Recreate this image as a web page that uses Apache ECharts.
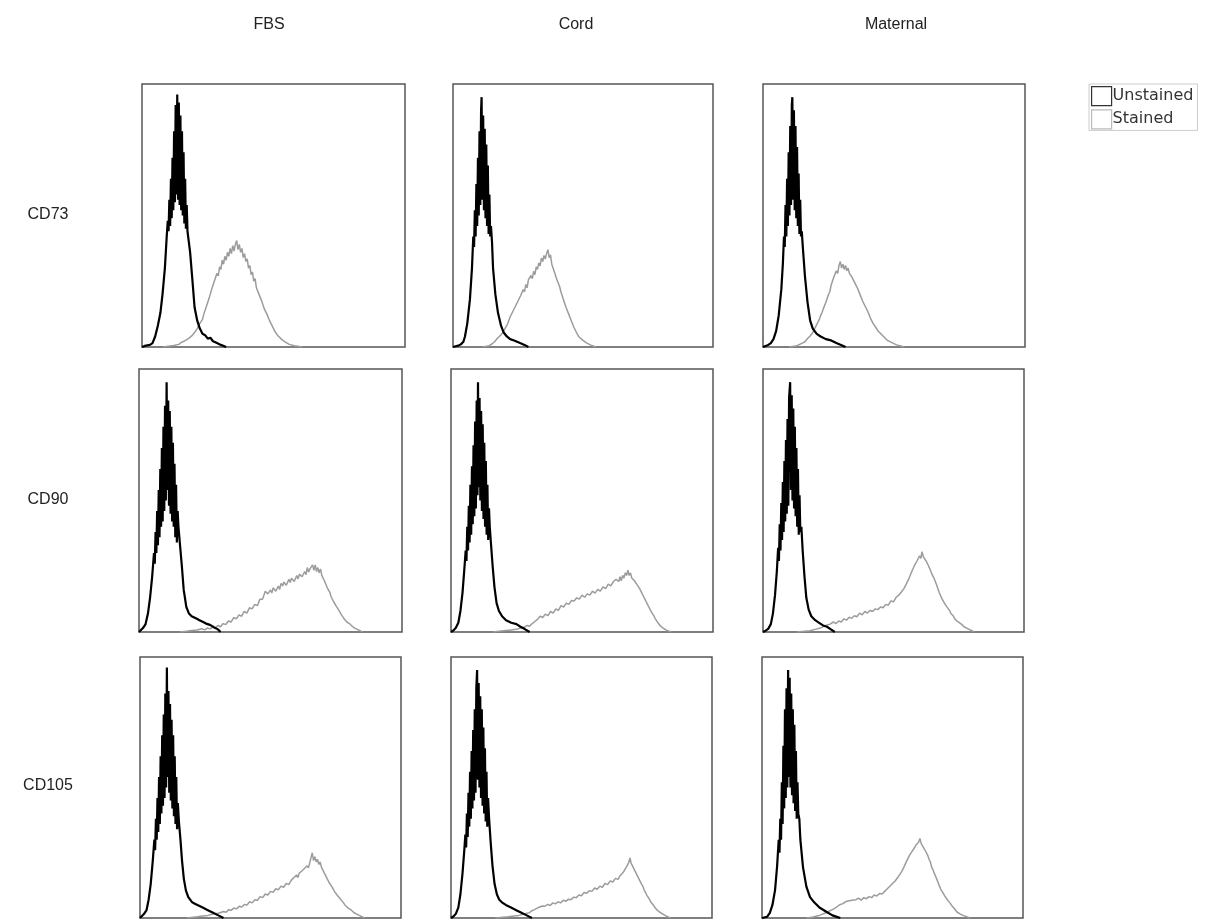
<!DOCTYPE html>
<html>
<head>
<meta charset="utf-8">
<title>CD73 / CD90 / CD105 histograms</title>
<script src="https://cdn.jsdelivr.net/npm/echarts@6/dist/echarts.min.js"></script>
<style>
  html, body { margin: 0; padding: 0; background: #fff; }
  #chart { width: 1205px; height: 920px; }
</style>
</head>
<body>
<div id="chart"></div>
<script>
var columns = ['FBS', 'Cord', 'Maternal'];
var markers = ['CD73', 'CD90', 'CD105'];
var seriesNames = ['Unstained', 'Stained'];

// [channel %, count % of panel max]
var fbsCD73Unstained = [[0,0],[1,0.4],[2,0.6],[3,0.8],[4,1.5],[5,4],[6,8],[7,13],[7.8,20],[8.7,30],[9.4,42],[9.8,48],[10.1,44],[10.4,56],[10.7,46],[11,64],[11.3,49],[11.6,72],[11.9,52],[12.2,82],[12.5,55],[12.8,92],[13.1,58],[13.4,96],[13.7,56],[14,93],[14.3,54],[14.6,88],[14.9,52],[15.2,82],[15.5,50],[15.8,74],[16.1,47],[16.4,64],[16.7,45],[17,54],[17.3,44],[18.3,36],[19.2,25],[20,15],[21,10],[22,7],[23,5],[24,4.5],[25,3.2],[26,3.5],[27,2.2],[28.5,1.5],[30,0.8],[32,0]];
var fbsCD73Stained = [[8,0],[10,0.3],[12,0.6],[14,1],[15,1.8],[15.5,1.2],[16,2.2],[16.5,1.8],[17,2.8],[17.5,2.4],[18,3.5],[18.5,3],[19,4.3],[19.5,4],[20,5.5],[20.5,5],[21,7],[21.5,6.5],[22,9],[22.5,8.5],[23,10.5],[23.5,12.5],[24,12],[24.5,15.5],[25,15],[25.5,18.5],[26,18],[26.5,22],[27,21.5],[27.5,25],[28,24.5],[28.5,28],[29,27],[29.5,30.5],[30,29.5],[30.5,33],[31,31.5],[31.5,34.5],[32,33],[32.5,36],[33,34.5],[33.5,37.5],[34,35.5],[34.5,38.5],[35,36.5],[35.5,39],[36,40.5],[36.5,37],[37,39],[37.5,36],[38,37.5],[38.5,34],[39,35.5],[39.5,32.5],[40,33.5],[40.5,30],[41,31],[41.5,27.5],[42,28.5],[42.5,25],[43,26],[43.5,22.5],[44,23],[44.5,20],[45,20.5],[45.5,17.5],[46,17],[46.5,14.5],[47,15],[47.5,12.5],[48,12],[48.5,10],[49,10],[49.5,8],[50,7.5],[50.5,6],[51,6],[51.5,4.5],[52,4.5],[53,3],[53.5,3.2],[54,2.2],[55,1.6],[56,1],[58,0.5],[61,0]];

var cordCD73Unstained = [[0,0],[1,0.3],[2,0.5],[3,1],[4,2],[4.6,4],[5.5,9],[6.5,18],[7.3,30],[7.8,42],[8.1,38],[8.4,52],[8.7,42],[9,62],[9.3,46],[9.6,72],[9.9,50],[10.2,82],[10.5,54],[10.8,90],[11,95],[11.3,56],[11.6,88],[11.9,52],[12.2,83],[12.5,49],[12.8,77],[13.1,46],[13.4,69],[13.7,43],[14,58],[14.3,42],[14.6,46],[15,40],[15.4,30],[16.3,20],[17.3,13],[18.5,8],[19.5,5.5],[20.7,4],[22,3],[23.5,2.5],[25.8,1.5],[27.5,0.8],[29,0]];
var cordCD73Stained = [[11.5,0],[14,0.5],[15,1.2],[16,2],[17,3.2],[17.5,2.8],[18,4.2],[18.5,3.8],[19,5.2],[19.5,5],[20,7],[20.5,6.5],[21,8.8],[21.5,8.5],[22,11.5],[22.5,10.8],[23,13.5],[23.5,12.8],[24,15.5],[24.5,14.8],[25,17.5],[25.5,16.8],[26,19.5],[26.5,18.8],[27,21.8],[27.5,21],[28,23.8],[28.5,22.5],[29,25.5],[29.5,24.8],[30,27.2],[30.5,26],[31,28.8],[31.5,27.5],[32,30.5],[32.5,29.5],[33,32],[33.5,30.8],[34,33.8],[34.5,32.5],[35,34.8],[35.5,33.5],[36,35.5],[36.5,37],[37,34],[37.5,35],[38,31.5],[38.5,32],[39,28.5],[39.5,28.5],[40,25.5],[40.5,25],[41,23],[41.5,21],[42,20.5],[42.5,18],[43,17.5],[43.5,15],[44,14.5],[44.5,12.5],[45,12],[45.5,10],[46,9.5],[46.5,7.5],[47,7],[47.5,5.5],[48,5],[48.5,3.8],[49,3.5],[50,2.5],[51.5,1.5],[53,0.7],[55,0]];

var maternalCD73Unstained = [[0,0],[1,0.4],[2,0.8],[3,1.5],[4,3],[5,6],[6,12],[7,22],[7.6,32],[8,42],[8.3,38],[8.6,54],[8.9,42],[9.2,64],[9.5,46],[9.8,74],[10.1,50],[10.4,84],[10.7,54],[11,92],[11.2,95],[11.5,56],[11.8,90],[12.1,52],[12.4,84],[12.7,49],[13,76],[13.3,46],[13.6,66],[13.9,43],[14.2,56],[14.5,42],[14.8,44],[15.2,38],[16,27],[17,17],[18,10],[19,7],[20.5,5],[22,4],[24,3],[26,2.5],[28,1.5],[30,0.7],[31.5,0]];
var maternalCD73Stained = [[10,0],[13,0.5],[15,1.5],[16,2],[17,3.2],[17.5,2.8],[18,4.2],[18.5,4.8],[19,5.5],[19.5,6.5],[20,7.2],[20.5,8.5],[21,9.5],[21.5,10.5],[22,12],[22.5,13],[23,14.5],[23.5,15],[24,17],[24.5,17.5],[25,20],[25.5,21],[26,23.5],[26.5,24],[27,26.5],[27.5,26],[28,29],[28.5,28],[29,31],[29.5,32.5],[30,30],[30.5,31.5],[31,29.5],[31.5,31],[32,29],[32.5,30],[33,28],[33.5,28.5],[34,26.5],[34.5,26.5],[35,24.5],[35.5,24.5],[36,22.5],[36.5,22.5],[37,20],[37.5,19.5],[38,17.5],[38.5,17],[39,15.5],[39.5,15],[40,13.5],[40.5,13],[41,11],[41.5,10.5],[42,9],[42.5,8.5],[43,7.5],[43.5,7],[44,6],[44.7,5.5],[46,4],[47.5,2.5],[49.6,1.5],[51,0.8],[54,0]];

var fbsCD90Unstained = [[0,0],[0.5,0.5],[1.5,1.5],[2.5,3],[3.4,7],[4.2,13],[5,21],[5.7,30],[6,26],[6.3,38],[6.6,30],[6.9,46],[7.2,33],[7.5,54],[7.8,36],[8.1,62],[8.4,40],[8.7,70],[9,42],[9.3,78],[9.6,46],[9.9,86],[10.2,50],[10.5,95],[10.8,54],[11.1,88],[11.4,48],[11.7,84],[12,45],[12.3,78],[12.6,42],[12.9,72],[13.2,40],[13.5,64],[13.8,36],[14.1,56],[14.4,34],[14.7,46],[15,40],[15.6,33],[16.3,25],[17,16],[18,9.5],[19,7],[20,6],[21,5.5],[22,5],[23,4.5],[24,4],[25.5,3.2],[27,2.7],[28.5,1.8],[30,1],[31,0]];
var fbsCD90Stained = [[15.6,0],[18,0.3],[20,0.6],[22,0.8],[24,1.2],[25,0.8],[26,1.5],[27,1.2],[28,1.8],[29,1.5],[30,2.5],[31,2],[32,3.2],[33,2.8],[34,4.2],[35,3.8],[36,5.5],[37,5],[38,6.5],[39,6],[40,7.8],[41,7.2],[42,9.2],[43,8.8],[44,10.5],[45,10],[46,12.5],[47,12.5],[48,15.5],[48.6,16],[49,14.5],[50,16],[50.5,14.8],[51,16.8],[52,15.5],[53,17.5],[53.5,16.2],[54,18.5],[54.7,17.5],[55,19],[56,17.8],[57,20],[57.5,18.8],[58,20.5],[59,19.2],[60,21.5],[60.5,20.2],[61,22],[62,21],[63,23],[63.5,21.8],[64,24.5],[64.5,22.8],[65,24],[66,25.5],[66.5,23.5],[67,25.5],[67.5,23],[68,24.5],[68.5,22.5],[69,24],[69.5,21.5],[70,22],[70.5,19.5],[71,19.5],[71.5,17],[72,16.5],[72.6,15],[73,13.5],[73.5,13.5],[74,11.5],[74.5,11.2],[75,9.8],[75.5,9.8],[76,8.2],[76.5,7.8],[77,6.5],[77.5,6],[78,5],[78.5,4.5],[79,3.8],[80,3.2],[81,2.2],[82,1.5],[83,1],[85,0]];

var cordCD90Unstained = [[0,0],[0.8,0.5],[1.8,1.5],[2.8,3.5],[3.6,8],[4.4,15],[5.1,24],[5.6,31],[5.9,27],[6.2,40],[6.5,31],[6.8,48],[7.1,34],[7.4,56],[7.7,37],[8,63],[8.3,41],[8.6,71],[8.9,44],[9.2,80],[9.5,47],[9.8,88],[10.1,52],[10.3,95],[10.6,55],[10.9,89],[11.2,50],[11.5,84],[11.8,46],[12.1,79],[12.4,43],[12.7,72],[13,40],[13.3,65],[13.6,37],[13.9,56],[14.2,35],[14.5,47],[14.8,40],[15.3,33],[15.9,25],[16.6,17],[17.4,11],[18.3,8],[19.5,6],[21,4.5],[23,3.5],[25,3],[26.5,2],[28,1.2],[30,0]];
var cordCD90Stained = [[16,0],[20,0.5],[23,0.8],[25,1],[26.5,1.5],[28,1.8],[29,2.5],[30,2.2],[31,3.2],[32,4],[33,4.8],[34,6],[35,5.5],[36,6.8],[37,6.2],[38,7.8],[39,7.2],[40,8.8],[41,8.2],[42,10],[43,9.5],[44,11],[45,10.5],[46,12],[47,11.8],[48,13],[49,12.5],[50,14],[51,13.2],[52,14.5],[53,14],[54,15.5],[55,14.8],[56,16.2],[57,15.5],[58,17.2],[59,16.5],[60,18.2],[61,17.5],[62,19.2],[62.6,18.5],[63,20],[64,19.2],[64.5,21],[65,19.5],[65.5,21.5],[66,20.5],[66.5,22.5],[67,21.5],[67.5,23.5],[68,21.5],[68.5,22.5],[69,20.5],[69.5,21],[70,19.5],[70.5,19.5],[71,18],[71.5,18],[72,16.5],[72.5,16.5],[73,14.5],[73.5,13.5],[74,12.5],[74.5,11.5],[75,10.5],[75.5,9.5],[76,8.5],[76.5,8],[77,6.8],[77.5,6],[78,5],[78.5,4.5],[79,3.5],[80,2.2],[81,1.5],[82,0.8],[84,0]];

var maternalCD90Unstained = [[0,0],[1,0.5],[2,1.2],[3,3],[3.8,7],[4.6,14],[5.3,23],[5.8,32],[6.1,27],[6.4,41],[6.7,31],[7,49],[7.3,35],[7.6,57],[7.9,38],[8.2,65],[8.5,42],[8.8,73],[9.1,45],[9.4,81],[9.7,48],[10,89],[10.4,95],[10.7,54],[11,90],[11.3,50],[11.6,85],[11.9,47],[12.2,78],[12.5,44],[12.8,70],[13.1,40],[13.4,62],[13.7,37],[14,52],[14.3,38],[14.7,40],[15.2,31],[15.9,21],[16.6,13],[17.5,8.5],[18.5,6],[20,4.5],[21.5,3.5],[23,2.5],[24.5,2],[26,1],[27.5,0]];
var maternalCD90Stained = [[13,0],[16,0.3],[18,0.5],[20,1],[22,1.5],[24,2.5],[25.7,3],[27,3.8],[28,3.2],[29,4.2],[30,3.8],[31,5],[32,4.5],[33,5.6],[34,5.2],[35,6.2],[36,5.8],[37,7.2],[38,6.5],[39,7.8],[40,7.2],[41,8.2],[42,7.8],[43,8.8],[44,8.5],[45,9.5],[46,9.2],[47,10.5],[48,10.2],[49,11.8],[50,11.5],[51,13.2],[51.5,12.8],[52,14],[52.5,13.8],[53,15.2],[53.5,15],[54,16.5],[54.5,16.5],[55,18.5],[55.5,18.2],[56,20.5],[56.5,20.5],[57,23],[57.5,22.5],[58,25.2],[58.5,24.5],[59,27],[59.5,26.5],[60,29],[60.5,28],[60.9,30.5],[61.5,28.5],[62,29],[62.5,27],[63,27],[63.5,25],[64,24.5],[64.5,22.5],[65,22.5],[65.5,20.5],[66,20],[66.5,18],[67,17.5],[67.5,15],[68,14.5],[68.5,12.8],[69,12.2],[69.5,11],[70,10.2],[70.5,9.5],[71,8.8],[71.6,8],[72,7],[73,6],[73.5,5],[74.5,4],[75,3.5],[76,3],[77,2],[79,1],[81,0]];

var fbsCD105Unstained = [[0,0],[0.6,0.5],[1.5,1.5],[2.5,3],[3.3,7],[4.1,13],[4.9,22],[5.5,30],[5.8,26],[6.1,38],[6.4,30],[6.7,46],[7,33],[7.3,54],[7.6,36],[7.9,62],[8.2,40],[8.5,70],[8.8,43],[9.1,78],[9.4,46],[9.7,86],[10,50],[10.3,96],[10.6,54],[10.9,87],[11.2,48],[11.5,82],[11.8,45],[12.1,76],[12.4,42],[12.7,70],[13,39],[13.3,62],[13.6,36],[13.9,54],[14.2,34],[14.5,44],[14.9,37],[15.5,30],[16.1,22],[16.8,15],[17.6,10.5],[18.5,8],[20,6],[21,5.5],[22,5],[24,4],[26,3],[28,2],[30,1],[32,0]];
var fbsCD105Stained = [[18,0],[22,0.5],[24,0.8],[26,1],[28,1.5],[30,1.8],[32,2.5],[33,2.2],[34,3.2],[35,3],[36,3.8],[37,3.5],[38,4.5],[39,4.2],[40,5.2],[41,5],[42,6.2],[43,5.8],[44,7],[45,6.8],[46,8.2],[47,7.8],[48,9.2],[49,8.8],[50,10.2],[51,9.8],[52,11.2],[53,10.8],[54,12.2],[55,11.8],[56,13.2],[57,12.8],[58,14.5],[58.5,13.8],[59,15.5],[59.5,14.8],[60,16.5],[60.5,15.5],[61,17.2],[61.5,16.5],[62,18],[62.5,17.5],[63,19],[63.5,18.5],[64,20],[64.5,19.2],[65,21],[65.5,20.5],[66,25],[66.5,22],[67,23.5],[67.5,21.5],[68,22.5],[68.5,20.5],[69,21.5],[69.5,19.5],[70,19.8],[70.5,17.5],[71,18],[71.5,15.5],[72,16],[72.5,13.5],[73,14],[73.5,12],[74,11.8],[74.5,10.2],[75,10.2],[75.5,8.8],[76,8.5],[76.6,7.5],[77,7],[78,5.8],[78.5,5],[79.5,4],[80,3.5],[81,3],[82,2],[84,1],[86,0]];

var cordCD105Unstained = [[0,0],[0.8,0.5],[1.8,1.5],[2.8,4],[3.6,9],[4.4,17],[5.1,26],[5.5,32],[5.8,27],[6.1,40],[6.4,31],[6.7,48],[7,35],[7.3,56],[7.6,38],[7.9,64],[8.2,42],[8.5,72],[8.8,45],[9.1,80],[9.4,48],[9.7,88],[10,95],[10.3,53],[10.6,90],[10.9,50],[11.2,85],[11.5,46],[11.8,80],[12.1,43],[12.4,73],[12.7,40],[13,65],[13.3,37],[13.6,56],[13.9,35],[14.2,46],[14.6,38],[15.2,29],[15.9,20],[16.7,13],[17.6,9],[18.5,7],[19.5,6],[21,5],[23,4],[25,3],[27,2],[29,1],[31,0]];
var cordCD105Stained = [[17,0],[22,0.5],[24,0.8],[26,1],[28,1.5],[30,2],[31,2.8],[32,3.2],[33,3.8],[34,4.2],[35,4.6],[36,4.5],[37,5.2],[38,4.8],[39,5.8],[40,5.4],[41,6.2],[42,5.8],[43,6.8],[44,6.4],[45,7.2],[46,7],[47,8],[48,7.8],[49,8.8],[50,8.5],[51,9.8],[52,9.5],[53,10.5],[54,10.2],[55,11.5],[56,11],[57,12.2],[58,11.8],[59,13.2],[60,12.8],[61,14.2],[62,13.8],[63,15.2],[64,14.8],[64.8,16.2],[65.5,15.8],[66,17.5],[66.5,17],[67,19.2],[67.5,18.5],[68,21],[68.6,23],[69,21],[69.5,21.5],[70,19],[70.5,19.5],[71,17],[71.5,17.5],[72,15],[72.4,15.2],[73,13],[73.5,12.2],[74,10.8],[74.5,9.8],[75,8.8],[75.5,8],[76,7.2],[76.5,6.2],[77,5.8],[77.5,5],[78,4.2],[79,3],[80,2.2],[80.5,2],[82,1],[84,0]];

var maternalCD105Unstained = [[0,0],[2,0.5],[3,2],[4,5],[5,10.7],[5.8,20],[6.4,30],[6.7,25],[7,38],[7.3,30],[7.6,52],[7.9,36],[8.2,66],[8.5,42],[8.8,80],[9.1,46],[9.4,88],[9.7,50],[10,95],[10.3,54],[10.6,92],[10.9,50],[11.2,86],[11.5,47],[11.8,80],[12.1,44],[12.4,74],[12.7,41],[13,64],[13.3,38],[13.6,52],[13.9,40],[14.3,38],[14.7,30],[15.7,19.5],[17,12],[18.4,8],[20,6],[22,4],[24.5,2.5],[27,1],[30,0]];
var maternalCD105Stained = [[17,0],[19,0.3],[20,0.5],[21,0.8],[22,1],[23,1.4],[24,1.8],[25,2.2],[26,2.8],[27,3.2],[28,3.8],[29,4.5],[30,5.2],[31,5.5],[32,6.2],[33,6.5],[33.7,7.2],[34.5,6.8],[35,7.5],[36,7],[37,7.6],[38,6.8],[39,7.8],[40,7.4],[41,8.2],[42,7.8],[43,8.8],[44,8.4],[45,9.4],[46,9.2],[46.4,9.8],[47,10.2],[47.5,10.5],[48,11.2],[48.5,11.5],[49,12.2],[49.5,12.5],[50,13.2],[50.5,13.5],[51,14.2],[51.7,14.8],[52,15.5],[52.5,16.2],[53,17],[53.5,17.8],[54,18.5],[54.5,19.8],[55,20.5],[55.5,22],[56,22.5],[56.5,24],[57,24.5],[57.5,25.5],[58,26],[58.6,27.2],[59,28],[59.5,27.5],[60,29],[60.5,30.5],[61,28.5],[61.5,29],[62,26.8],[62.5,26.8],[63,25],[63.5,24],[64,22.5],[64.5,21.5],[65,19.5],[65.5,18.5],[66,17.2],[66.5,16],[67,14.8],[67.5,13.5],[68,12.2],[68.5,11],[69,10.2],[69.5,9.5],[70,8.5],[70.5,7.8],[71,7],[72,5.8],[72.5,5],[73.5,3.8],[74.7,2.3],[76,1.5],[77,1],[79.7,0]];

// row-major: CD73, CD90, CD105 x FBS, Cord, Maternal
var unstainedData = [
    fbsCD73Unstained, cordCD73Unstained, maternalCD73Unstained,
    fbsCD90Unstained, cordCD90Unstained, maternalCD90Unstained,
    fbsCD105Unstained, cordCD105Unstained, maternalCD105Unstained
];
var stainedData = [
    fbsCD73Stained, cordCD73Stained, maternalCD73Stained,
    fbsCD90Stained, cordCD90Stained, maternalCD90Stained,
    fbsCD105Stained, cordCD105Stained, maternalCD105Stained
];

// panel boxes (layout only)
var rowTop = [84, 369, 657];
var rowHeight = [263, 263, 261];
var colLeft = [[142, 453, 763], [139, 451, 763], [140, 451, 762]];
var colWidth = [[263, 260, 262], [263, 262, 261], [261, 261, 261]];
var headerX = [269, 576, 896];
var labelY = [215, 500, 786];

var chart = echarts.init(document.getElementById('chart'));

var grids = [], xAxes = [], yAxes = [], series = [], graphics = [];

for (var r = 0; r < 3; r++) {
    for (var c = 0; c < 3; c++) {
        var i = r * 3 + c;
        grids.push({
            left: colLeft[r][c],
            top: rowTop[r],
            width: colWidth[r][c],
            height: rowHeight[r],
            show: true,
            borderColor: '#555',
            borderWidth: 1.5,
            backgroundColor: 'transparent'
        });
        xAxes.push({ gridIndex: i, type: 'value', min: 0, max: 100, show: false });
        yAxes.push({ gridIndex: i, type: 'value', min: 0, max: 100, show: false });

        series.push({
            name: 'Stained',
            type: 'line',
            xAxisIndex: i,
            yAxisIndex: i,
            data: stainedData[i],
            symbol: 'none',
            color: '#9c9c9c',
            lineStyle: { color: '#9c9c9c', width: 1.5 },
            silent: true
        });
        series.push({
            name: 'Unstained',
            type: 'line',
            xAxisIndex: i,
            yAxisIndex: i,
            data: unstainedData[i],
            symbol: 'none',
            color: '#000',
            lineStyle: { color: '#000', width: 2.2 },
            silent: true
        });
    }
}

for (var c = 0; c < 3; c++) {
    graphics.push({
        type: 'text',
        x: headerX[c],
        y: 25,
        style: {
            text: columns[c],
            fill: '#222',
            font: '16px "Liberation Sans", Arial, sans-serif',
            textAlign: 'center',
            textVerticalAlign: 'middle'
        }
    });
}
for (var r = 0; r < 3; r++) {
    graphics.push({
        type: 'text',
        x: 48,
        y: labelY[r],
        style: {
            text: markers[r],
            fill: '#222',
            font: '16px "Liberation Sans", Arial, sans-serif',
            textAlign: 'center',
            textVerticalAlign: 'middle'
        }
    });
}

chart.setOption({
    animation: false,
    backgroundColor: '#fff',
    grid: grids,
    xAxis: xAxes,
    yAxis: yAxes,
    legend: {
        left: 1089,
        top: 84,
        orient: 'vertical',
        itemWidth: 20,
        itemHeight: 19,
        itemGap: 3,
        padding: [2, 4, 1, 2],
        borderColor: '#ccc',
        borderWidth: 1,
        selectedMode: false,
        textStyle: { fontFamily: 'DejaVu Sans', fontSize: 16, color: '#333', padding: [0, 0, 0, -4] },
        data: [
            { name: seriesNames[0], icon: 'rect', itemStyle: { color: '#fff', borderColor: '#333', borderWidth: 1.2 } },
            { name: seriesNames[1], icon: 'rect', itemStyle: { color: '#fff', borderColor: '#bbb', borderWidth: 1.2 } }
        ]
    },
    graphic: graphics,
    series: series
});
</script>
</body>
</html>
